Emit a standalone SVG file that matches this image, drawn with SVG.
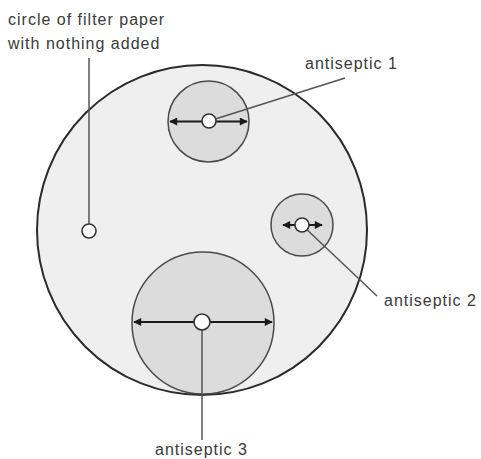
<svg xmlns="http://www.w3.org/2000/svg" width="481" height="459" viewBox="0 0 481 459">
<style>
.paper{fill:#efefef;stroke:#2b2b2b;stroke-width:2}
.zone{fill:#dcdcdc;stroke:#4a4a4a;stroke-width:1.5}
.disc{fill:#ffffff;stroke:#333333;stroke-width:1.6}
.arrow{stroke:#1a1a1a;stroke-width:2;fill:none;marker-start:url(#ah);marker-end:url(#ah)}
.lead{stroke:#555555;stroke-width:1.5;fill:none}
.lbl{font-family:"Liberation Sans",Arial,sans-serif;font-size:16px;letter-spacing:1px;fill:#3a3a3a}
</style>
<defs>
<marker id="ah" viewBox="0 0 10 10" refX="9" refY="5" markerWidth="4.5" markerHeight="4" orient="auto-start-reverse" markerUnits="strokeWidth">
<path d="M0,0 L10,5 L0,10 z" fill="#1a1a1a"/>
</marker>
</defs>
<rect width="481" height="459" fill="#ffffff"/>
<g id="paper"><circle class="paper" cx="202" cy="230" r="165"/></g>
<g id="zone1"><circle class="zone" cx="208.5" cy="121.5" r="40.5"/><line class="arrow" x1="170" y1="121.5" x2="247" y2="121.5"/></g>
<g id="zone2"><circle class="zone" cx="302" cy="225" r="31"/><line class="arrow" x1="283" y1="225" x2="322" y2="225"/></g>
<g id="zone3"><circle class="zone" cx="203" cy="323" r="71"/><line class="arrow" x1="134" y1="322" x2="272" y2="322"/></g>
<g id="connectors">
<line class="lead" x1="89" y1="58" x2="89" y2="231"/>
<line class="lead" x1="209" y1="121" x2="345" y2="78"/>
<line class="lead" x1="302" y1="225" x2="377" y2="296"/>
<line class="lead" x1="202" y1="322" x2="202" y2="440"/>
</g>
<g id="disc0"><circle class="disc" cx="89" cy="231" r="7"/></g>
<g id="disc1"><circle class="disc" cx="209" cy="121" r="7"/></g>
<g id="disc2"><circle class="disc" cx="302" cy="225" r="7"/></g>
<g id="disc3"><circle class="disc" cx="202" cy="322" r="8"/></g>
<g id="label0"><text class="lbl" x="8" y="25">circle of filter paper</text><text class="lbl" x="8" y="49">with nothing added</text></g>
<g id="label1"><text class="lbl" x="305" y="69">antiseptic 1</text></g>
<g id="label2"><text class="lbl" x="384" y="306">antiseptic 2</text></g>
<g id="label3"><text class="lbl" x="155" y="455">antiseptic 3</text></g>
</svg>
